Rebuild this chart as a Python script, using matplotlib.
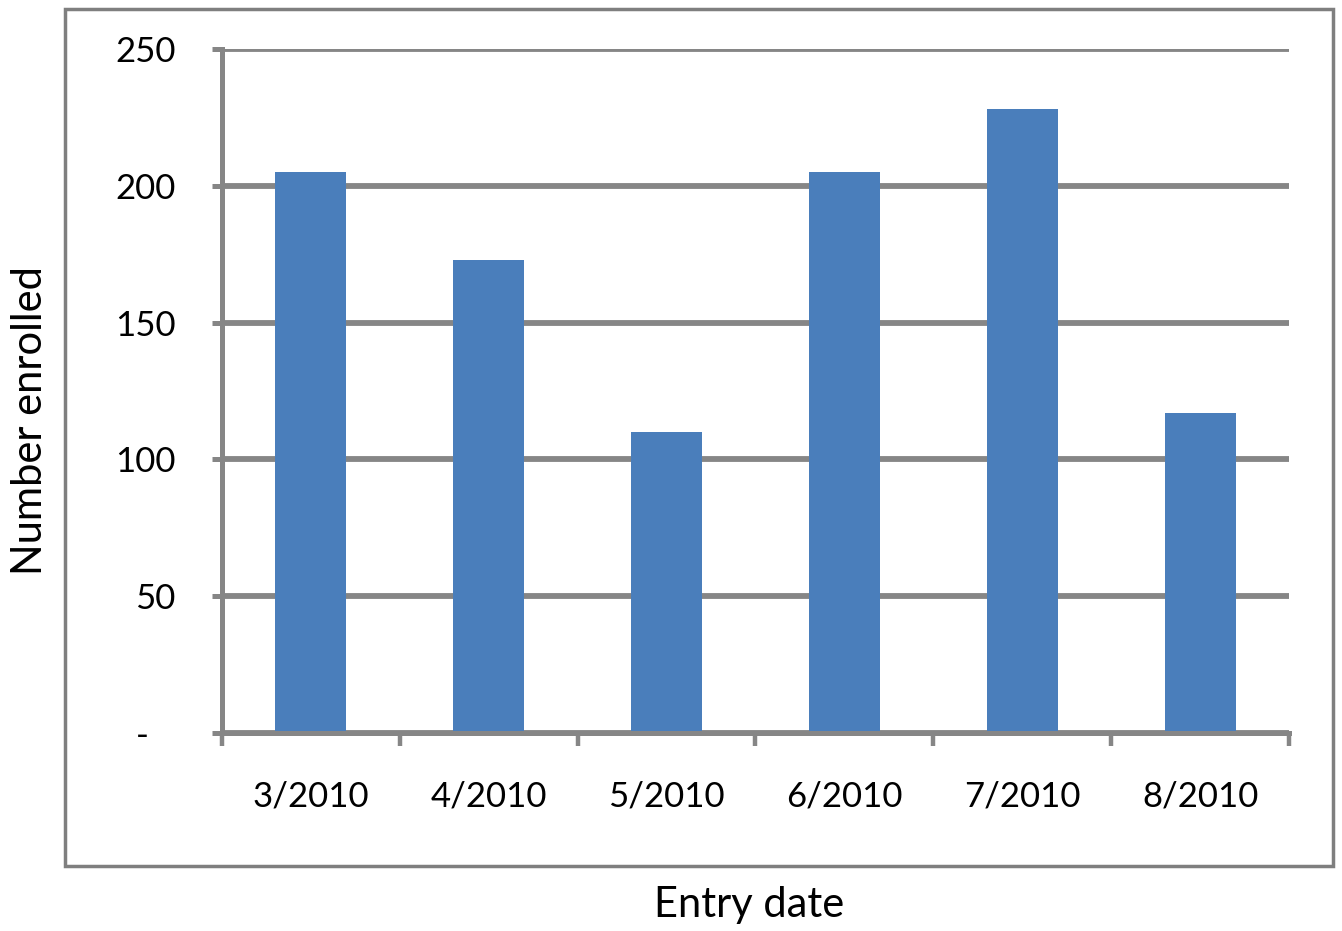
import matplotlib.pyplot as plt
from matplotlib.patches import Rectangle

# data
entry_dates = ['3/2010', '4/2010', '5/2010', '6/2010', '7/2010', '8/2010']
enrolled = [205, 173, 110, 205, 228, 117]
y_ticks = [0, 50, 100, 150, 200, 250]
y_tick_labels = ['-   ', '50', '100', '150', '200', '250']

plt.rcParams['font.family'] = ['Lato', 'DejaVu Sans']
grey = '#868686'
bar_color = '#4A7EBB'

fig = plt.figure(figsize=(13.42, 9.31), dpi=100)
ax = fig.add_axes([222 / 1342, 1 - 733 / 931, (1289 - 222) / 1342, (733 - 49) / 931])

x = list(range(len(entry_dates)))
ax.bar(x, enrolled, width=0.4, color=bar_color, zorder=3)

ax.set_xlim(-0.5, len(entry_dates) - 0.5)
ax.set_ylim(0, 250)

ax.set_yticks(y_ticks)
ax.set_yticklabels(y_tick_labels, fontsize=25)
ax.set_xticks(x)
ax.set_xticklabels(entry_dates, fontsize=25)
ax.set_xticks([i - 0.5 for i in range(len(entry_dates) + 1)], minor=True)

ax.tick_params(axis='x', which='major', length=0, pad=34)
ax.tick_params(axis='x', which='minor', length=9.5, width=3.2, color=grey, direction='out')
ax.tick_params(axis='y', which='major', length=7.5, width=3.6, color=grey, direction='out', pad=26)

ax.yaxis.grid(True, color=grey, linewidth=4.2, zorder=0)
ax.set_axisbelow(True)

for side in ['top', 'right']:
    ax.spines[side].set_visible(False)
for side in ['left', 'bottom']:
    ax.spines[side].set_color(grey)
    ax.spines[side].set_linewidth(3.6)
    ax.spines[side].set_zorder(4)

# border around the plot area (Excel style)
fig.patches.append(Rectangle((65 / 1342, 1 - 866 / 931), (1333 - 65) / 1342, (866 - 9) / 931,
                             transform=fig.transFigure, fill=False, edgecolor='#7f7f7f', linewidth=2.5))

fig.text(30 / 1342, 1 - 421 / 931, 'Number enrolled', rotation=90, fontsize=30,
         ha='center', va='center')
fig.text(749 / 1342, 1 - 905 / 931, 'Entry date', fontsize=30, ha='center', va='center')

fig.savefig('out.png', dpi=100)
